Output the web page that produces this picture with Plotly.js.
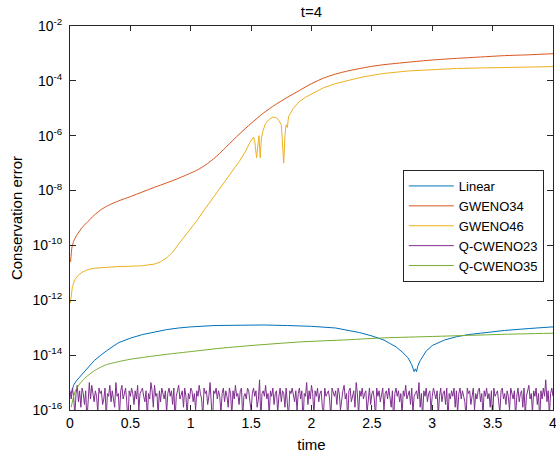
<!DOCTYPE html>
<html>
<head>
<meta charset="utf-8">
<script src="https://cdn.plot.ly/plotly-3.0.1.min.js"></script>
<style>html,body{margin:0;padding:0;background:#fff;}#chart{width:556px;height:456px;}</style>
</head>
<body>
<div id="chart"></div>
<script>
// ---- data (y stored as log10 of the conservation error) ----
const linearTime = [0.01,0.03,0.05,0.07,0.1,0.15,0.2,0.25,0.3,0.4,0.5,0.6,0.7,0.8,0.9,1.0,1.2,1.4,1.6,1.8,2.0,2.2,2.4,2.5,2.6,2.7,2.75,2.8,2.83,2.85,2.86,2.87,2.88,2.9,2.95,3.0,3.1,3.2,3.3,3.4,3.6,3.8,4.0];
const linearLog10 = [-15.4,-15.1,-14.95,-14.85,-14.7,-14.45,-14.2,-14.02,-13.85,-13.55,-13.38,-13.25,-13.15,-13.07,-13.01,-12.97,-12.92,-12.9,-12.9,-12.92,-12.95,-13.01,-13.18,-13.3,-13.45,-13.7,-13.88,-14.1,-14.35,-14.6,-14.5,-14.6,-14.4,-14.2,-13.85,-13.65,-13.45,-13.33,-13.25,-13.2,-13.1,-13.03,-12.97];

const gweno34Time = [0.005,0.015,0.03,0.06,0.1,0.15,0.2,0.25,0.3,0.4,0.5,0.6,0.7,0.8,0.9,1.0,1.05,1.1,1.15,1.2,1.25,1.3,1.4,1.5,1.6,1.7,1.8,1.9,2.0,2.1,2.2,2.3,2.4,2.5,2.6,2.8,3.0,3.2,3.4,3.6,3.8,4.0];
const gweno34Log10 = [-10.6,-10.1,-9.85,-9.6,-9.35,-9.12,-8.9,-8.72,-8.58,-8.38,-8.22,-8.05,-7.88,-7.72,-7.55,-7.36,-7.26,-7.13,-6.98,-6.8,-6.6,-6.38,-5.95,-5.55,-5.18,-4.87,-4.6,-4.35,-4.1,-3.9,-3.75,-3.64,-3.55,-3.47,-3.41,-3.32,-3.24,-3.18,-3.13,-3.08,-3.05,-3.01];

const gweno46Time = [0.003,0.01,0.02,0.04,0.07,0.1,0.15,0.2,0.3,0.4,0.5,0.6,0.7,0.75,0.8,0.85,0.9,0.95,1.0,1.05,1.1,1.15,1.2,1.25,1.3,1.35,1.4,1.45,1.49,1.52,1.53,1.545,1.555,1.565,1.575,1.585,1.6,1.62,1.65,1.68,1.71,1.73,1.75,1.76,1.77,1.78,1.79,1.8,1.81,1.83,1.85,1.88,1.9,1.95,2.0,2.1,2.2,2.3,2.4,2.5,2.6,2.8,3.0,3.2,3.4,3.6,3.8,4.0];
const gweno46Log10 = [-12.1,-11.8,-11.5,-11.25,-11.08,-10.98,-10.88,-10.83,-10.79,-10.77,-10.76,-10.74,-10.68,-10.6,-10.45,-10.25,-9.95,-9.67,-9.4,-9.1,-8.78,-8.47,-8.17,-7.88,-7.58,-7.27,-6.95,-6.6,-6.25,-6.05,-6.2,-6.8,-6.3,-6.0,-6.8,-6.1,-5.8,-5.55,-5.4,-5.32,-5.35,-5.45,-5.6,-6.2,-7.0,-6.0,-5.6,-5.7,-5.3,-5.15,-5.0,-4.85,-4.75,-4.6,-4.48,-4.25,-4.1,-3.98,-3.88,-3.8,-3.73,-3.64,-3.59,-3.55,-3.53,-3.51,-3.5,-3.48];

const qcweno23Step = 0.01;
const qcweno23Log10 = [
-15.3,-15.6,-15.2,-15.5,-16.2,-15.4,-15.1,-15.7,-15.3,-15.9,-15.2,-15.4,-15.8,-15.3,-16.4,-15.5,-15.0,-15.6,-15.1,-15.4,
-15.7,-15.3,-15.5,-16.1,-15.2,-15.4,-15.3,-15.8,-15.6,-15.2,-16.3,-15.4,-15.5,-15.1,-15.7,-15.3,-15.6,-15.9,-15.0,-15.5,
-15.4,-16.2,-15.3,-15.1,-15.6,-15.4,-15.2,-15.7,-16.5,-15.3,-15.5,-15.2,-15.4,-15.8,-15.3,-15.6,-15.1,-16.0,-15.4,-15.3,
-15.2,-15.5,-15.7,-15.3,-16.3,-15.4,-15.6,-15.0,-15.3,-15.9,-15.1,-15.5,-15.4,-16.2,-15.3,-15.7,-15.2,-15.4,-15.6,-15.3,
-16.1,-15.4,-15.2,-15.5,-15.3,-15.8,-15.2,-16.4,-15.5,-15.3,-15.1,-15.6,-15.4,-15.3,-15.9,-15.2,-15.5,-16.2,-15.4,-15.6,
-15.2,-15.3,-15.7,-15.4,-16.0,-15.3,-15.5,-15.1,-15.4,-15.6,-16.3,-15.2,-15.4,-15.3,-15.8,-15.5,-15.0,-15.6,-16.5,-15.3,
-15.4,-15.2,-15.6,-15.3,-15.5,-16.1,-15.4,-15.2,-15.7,-15.3,-15.5,-15.9,-15.2,-15.4,-16.2,-15.3,-15.6,-15.1,-15.5,-15.4,
-15.8,-15.3,-15.2,-16.3,-15.5,-15.4,-15.6,-15.2,-15.3,-15.7,-16.0,-15.4,-15.2,-15.5,-15.3,-15.9,-15.6,-14.9,-16.4,-15.4,
-15.3,-15.5,-15.1,-15.6,-15.4,-16.2,-15.3,-15.5,-15.2,-15.8,-15.4,-15.3,-16.1,-15.5,-15.2,-15.7,-15.3,-15.4,-15.9,-15.2,
-15.6,-16.3,-15.3,-15.4,-15.2,-15.5,-15.7,-15.3,-16.0,-15.4,-15.2,-15.6,-15.3,-16.5,-15.4,-15.5,-15.0,-15.8,-15.3,-15.6,
-15.1,-15.4,-16.2,-15.3,-15.5,-15.2,-15.7,-15.4,-15.3,-15.9,-16.1,-15.2,-15.5,-15.4,-15.3,-15.6,-16.3,-15.2,-15.4,-15.5,
-15.3,-15.8,-15.2,-15.4,-16.0,-15.5,-15.3,-15.1,-15.6,-15.4,-16.4,-15.3,-15.2,-15.7,-15.5,-15.3,-15.9,-15.0,-15.4,-16.2,
-15.3,-15.5,-15.2,-15.6,-15.4,-15.3,-16.1,-15.5,-15.2,-15.8,-15.4,-15.3,-15.6,-16.3,-15.2,-15.5,-15.3,-15.7,-15.4,-15.2,
-16.0,-15.4,-15.3,-15.6,-15.2,-15.5,-15.9,-15.3,-16.5,-15.4,-15.2,-15.5,-15.3,-15.7,-15.4,-16.2,-15.3,-15.5,-15.1,-15.6,
-15.4,-15.3,-15.8,-15.2,-16.1,-15.5,-15.4,-15.3,-15.6,-15.0,-15.9,-15.4,-16.3,-15.3,-15.5,-15.2,-15.7,-15.4,-15.3,-16.0,
-15.5,-15.2,-15.4,-15.6,-15.3,-16.2,-15.5,-15.2,-15.7,-15.4,-15.3,-15.8,-15.2,-16.4,-15.4,-15.6,-15.3,-15.5,-15.2,-15.9,
-15.3,-16.1,-15.4,-15.2,-15.6,-15.3,-15.5,-15.7,-16.3,-15.2,-15.4,-15.3,-15.8,-15.5,-15.2,-16.0,-15.4,-15.6,-15.3,-15.2,
-15.7,-15.4,-16.2,-15.3,-15.5,-15.2,-15.6,-15.4,-15.9,-15.3,-16.4,-15.2,-15.5,-15.4,-15.3,-15.7,-16.1,-15.3,-15.2,-15.6,
-15.4,-15.8,-15.3,-15.5,-16.0,-15.2,-15.4,-15.6,-15.3,-16.3,-15.5,-15.2,-15.7,-15.4,-15.3,-15.9,-15.2,-16.2,-15.5,-15.3,
-15.1,-15.6,-15.4,-16.1,-15.3,-15.5,-15.2,-15.8,-15.4,-16.4,-15.3,-15.6,-15.2,-15.5,-14.9,-15.7,-15.3,-16.2,-15.4,-15.2,
-15.5];

const qcweno35Time = [0.01,0.03,0.05,0.08,0.12,0.19,0.25,0.3,0.4,0.5,0.66,0.8,0.94,1.1,1.22,1.5,1.9,2.3,2.6,3.0,3.3,3.6,4.0];
const qcweno35Log10 = [-15.9,-15.5,-15.25,-15.05,-14.85,-14.6,-14.45,-14.35,-14.24,-14.15,-14.05,-13.97,-13.9,-13.82,-13.76,-13.65,-13.52,-13.44,-13.37,-13.32,-13.28,-13.24,-13.2];

const seriesNames = ['Linear','GWENO34','GWENO46','Q-CWENO23','Q-CWENO35'];
const seriesColors = ['#0072BD','#D95319','#EDB120','#7E2F8E','#77AC30'];
const seriesShapes = ['linear','spline','linear','linear','spline'];
const xTickVals = [0,0.5,1,1.5,2,2.5,3,3.5,4];
const xTickText = ['0','0.5','1','1.5','2','2.5','3','3.5','4'];
const yTickExp = [-16,-14,-12,-10,-8,-6,-4,-2];

// ---- build ----
const toVal = a => a.map(v => Math.pow(10, v));
const qcweno23Time = qcweno23Log10.map((_, i) => +(i * qcweno23Step).toFixed(4));
const xs = [linearTime, gweno34Time, gweno46Time, qcweno23Time, qcweno35Time];
const ys = [linearLog10, gweno34Log10, gweno46Log10, qcweno23Log10, qcweno35Log10];

const traces = seriesNames.map((n, i) => ({
  x: xs[i], y: toVal(ys[i]), name: n, type: 'scatter', mode: 'lines',
  line: {color: seriesColors[i], width: 1, shape: seriesShapes[i], smoothing: 0.6}
}));

const axCol = '#262626';
const fam = 'Liberation Sans, Arial, Helvetica, sans-serif';

// minor log ticks (2..9 of every decade, plus odd decades) on left and right frames, as axis decoration
const minorTickLen = 3 / 483;
const shapes = [];
for (let e = -16; e < -2; e++) {
  for (let d = 2; d <= 10; d++) {
    const ly = e + Math.log10(d);
    if (Math.abs(ly - Math.round(ly)) < 1e-9 && Math.round(ly) % 2 === 0) continue;
    shapes.push({type: 'line', xref: 'paper', yref: 'y', x0: 0, x1: minorTickLen, y0: ly, y1: ly, line: {color: axCol, width: 1}});
    shapes.push({type: 'line', xref: 'paper', yref: 'y', x0: 1 - minorTickLen, x1: 1, y0: ly, y1: ly, line: {color: axCol, width: 1}});
  }
}

const layout = {
  width: 556, height: 456,
  margin: {l: 70, r: 3, t: 26, b: 46, pad: 0},
  paper_bgcolor: '#fff', plot_bgcolor: '#fff',
  font: {family: fam, size: 14, color: '#000'},
  showlegend: true,
  shapes: shapes,
  title: {text: 't=4', font: {family: fam, size: 15, color: '#000'}, xref: 'paper', x: 0.5, xanchor: 'center', yref: 'container', y: 0.974, yanchor: 'middle'},
  xaxis: {
    range: [0, 4], tickvals: xTickVals, ticktext: xTickText,
    ticks: 'inside', ticklen: 5, tickwidth: 1, tickcolor: axCol,
    showline: true, linecolor: axCol, linewidth: 1, mirror: 'ticks',
    showgrid: false, zeroline: false, ticklabeloverflow: 'allow',
    tickfont: {family: fam, size: 14, color: '#000'},
    title: {text: 'time', font: {family: fam, size: 15, color: '#000'}, standoff: 9}
  },
  yaxis: {
    type: 'log', range: [-16, -2],
    tickvals: yTickExp.map(e => Math.pow(10, e)),
    ticktext: yTickExp.map(e => '10<sup>' + e + '</sup>'),
    ticks: 'inside', ticklen: 6, tickwidth: 1, tickcolor: axCol,
    showline: true, linecolor: axCol, linewidth: 1, mirror: 'ticks',
    showgrid: false, zeroline: false,
    ticklabelstandoff: 4,
    tickfont: {family: fam, size: 14, color: '#000'},
    title: {text: 'Conservation error', font: {family: fam, size: 15, color: '#000'}, standoff: 6}
  },
  legend: {
    x: 0.689, y: 0.625, xanchor: 'left', yanchor: 'top',
    bgcolor: '#fff', bordercolor: axCol, borderwidth: 1,
    font: {family: fam, size: 13, color: '#000'},
    itemwidth: 45, tracegroupgap: 0
  }
};

Plotly.newPlot('chart', traces, layout, {staticPlot: true, displayModeBar: false});
</script>
</body>
</html>
